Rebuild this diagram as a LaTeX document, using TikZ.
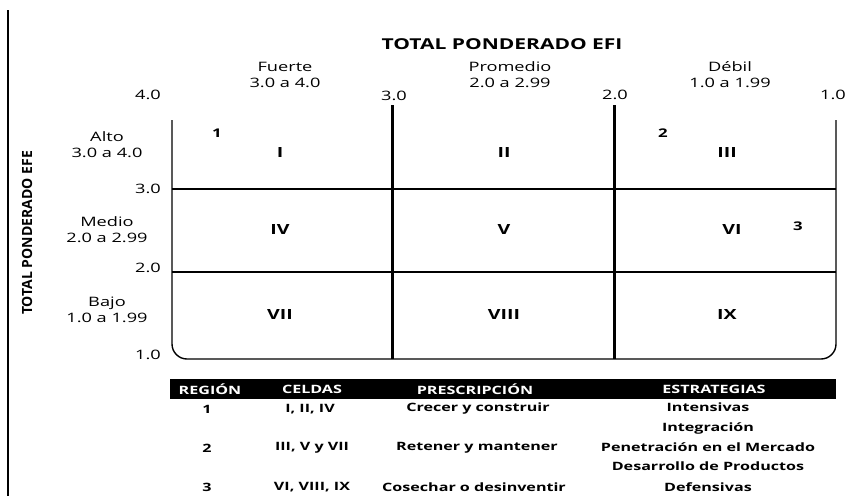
\documentclass[tikz,border=0pt]{standalone}
\usepackage{fontspec}
\setmainfont{Open Sans}[FakeStretch=1.4]
\newfontfamily\plainsans{Open Sans}
\usetikzlibrary{positioning}

\begin{document}
\begin{tikzpicture}[x=1pt,y=-1pt]
        \tikzstyle{lbl} = [inner sep = 0pt, align=center, font=\fontsize{13}{16}\selectfont]
        \tikzstyle{tck} = [inner sep = 0pt, font=\fontsize{13}{16}\selectfont]
        \tikzstyle{cell} = [inner sep = 0pt, font=\fontsize{14}{16}\selectfont\bfseries]
        \tikzstyle{reg} = [inner sep = 0pt, font=\fontsize{12}{14}\selectfont\bfseries]
        \tikzstyle{hdr} = [inner sep = 0pt, text=white, font=\fontsize{11.5}{14}\selectfont\bfseries]
        \tikzstyle{row} = [inner sep = 0pt, align=center, font=\fontsize{11.5}{19.5}\selectfont\bfseries]
        \tikzstyle{thinline} = [line width=1.4pt]
        \tikzstyle{heavyline} = [line width=3pt]

        \useasboundingbox (0,0) rectangle (845,496);

        % axes titles
        \draw[line width=2pt] (8,10) -- (8,496);
        \node[inner sep=0pt, font=\fontsize{15}{18}\selectfont\bfseries] (efi) at (502,44) {TOTAL PONDERADO EFI};
        \node[inner sep=0pt, rotate=90, font=\plainsans\fontsize{14}{16}\selectfont\bfseries] (efe) at (27,233) {TOTAL PONDERADO EFE};

        \node[lbl] (fuerte) at (285,75) {Fuerte\\3.0 a 4.0};
        \node[lbl] (prom) at (510,75) {Promedio\\2.0 a 2.99};
        \node[lbl] (debil) at (730,75) {Débil\\1.0 a 1.99};
        \node[tck] (x4) at (148,95) {4.0};
        \node[tck] (x3) at (394,96) {3.0};
        \node[tck] (x2) at (615,95) {2.0};
        \node[tck] (x1) at (833,95) {1.0};

        \node[lbl] (alto) at (107,145) {Alto\\3.0 a 4.0};
        \node[lbl] (medio) at (107,230) {Medio\\2.0 a 2.99};
        \node[lbl] (bajo) at (107,310) {Bajo\\1.0 a 1.99};
        \node[tck] (y3) at (148,189) {3.0};
        \node[tck] (y2) at (148,268) {2.0};
        \node[tck] (y1) at (148,355) {1.0};

        % grid
        \coordinate (tl) at (172,120);
        \coordinate (tr) at (836,120);
        \draw[thinline, rounded corners=15pt] (tl) -- (172,359) -- (836,359) -- (tr);
        \draw[heavyline] (392,105) -- (392,359);
        \draw[heavyline] (614,105) -- (614,359);
        \draw[line width=2.5pt] (172,189) -- (836,189);
        \draw[line width=2.5pt] (172,272) -- (836,272);

        \node[cell] (c1) at (280,152) {I};
        \node[cell] (c2) at (504,152) {II};
        \node[cell] (c3) at (727,152) {III};
        \node[cell] (c4) at (280,229) {IV};
        \node[cell] (c5) at (504,229) {V};
        \node[cell] (c6) at (732,229) {VI};
        \node[cell] (c7) at (280,314) {VII};
        \node[cell] (c8) at (504,314) {VIII};
        \node[cell] (c9) at (727,314) {IX};

        \node[reg] (r1) at (217,133) {1};
        \node[reg] (r2) at (663,133) {2};
        \node[reg] (r3) at (798,226) {3};

        % table
        \fill[black] (170,379) rectangle (836,399);
        \node[hdr] (hreg) at (210,389) {REGIÓN};
        \node[hdr] (hcel) at (312,389) {CELDAS};
        \node[hdr] (hpre) at (475,389) {PRESCRIPCIÓN};
        \node[hdr] (hest) at (714,389) {ESTRATEGIAS};

        \node[row] (n1) at (207,409) {1};
        \node[row] (n2) at (207,448) {2};
        \node[row] (n3) at (207,487) {3};
        \node[row] (k1) at (310,409) {I, II, IV};
        \node[row] (k2) at (312,448) {III, V y VII};
        \node[row] (k3) at (312,487) {VI, VIII, IX};
        \node[row] (p1) at (478,409) {Crecer y construir};
        \node[row] (p2) at (477,448) {Retener y mantener};
        \node[row] (p3) at (474,487) {Cosechar o desinventir};
        \node[row, anchor=north] (s1) at (708,403) {Intensivas\\Integración};
        \node[row, anchor=north] (s2) at (708,442) {Penetración en el Mercado\\Desarrollo de Productos};
        \node[row] (s3) at (708,487) {Defensivas};
\end{tikzpicture}
\end{document}
